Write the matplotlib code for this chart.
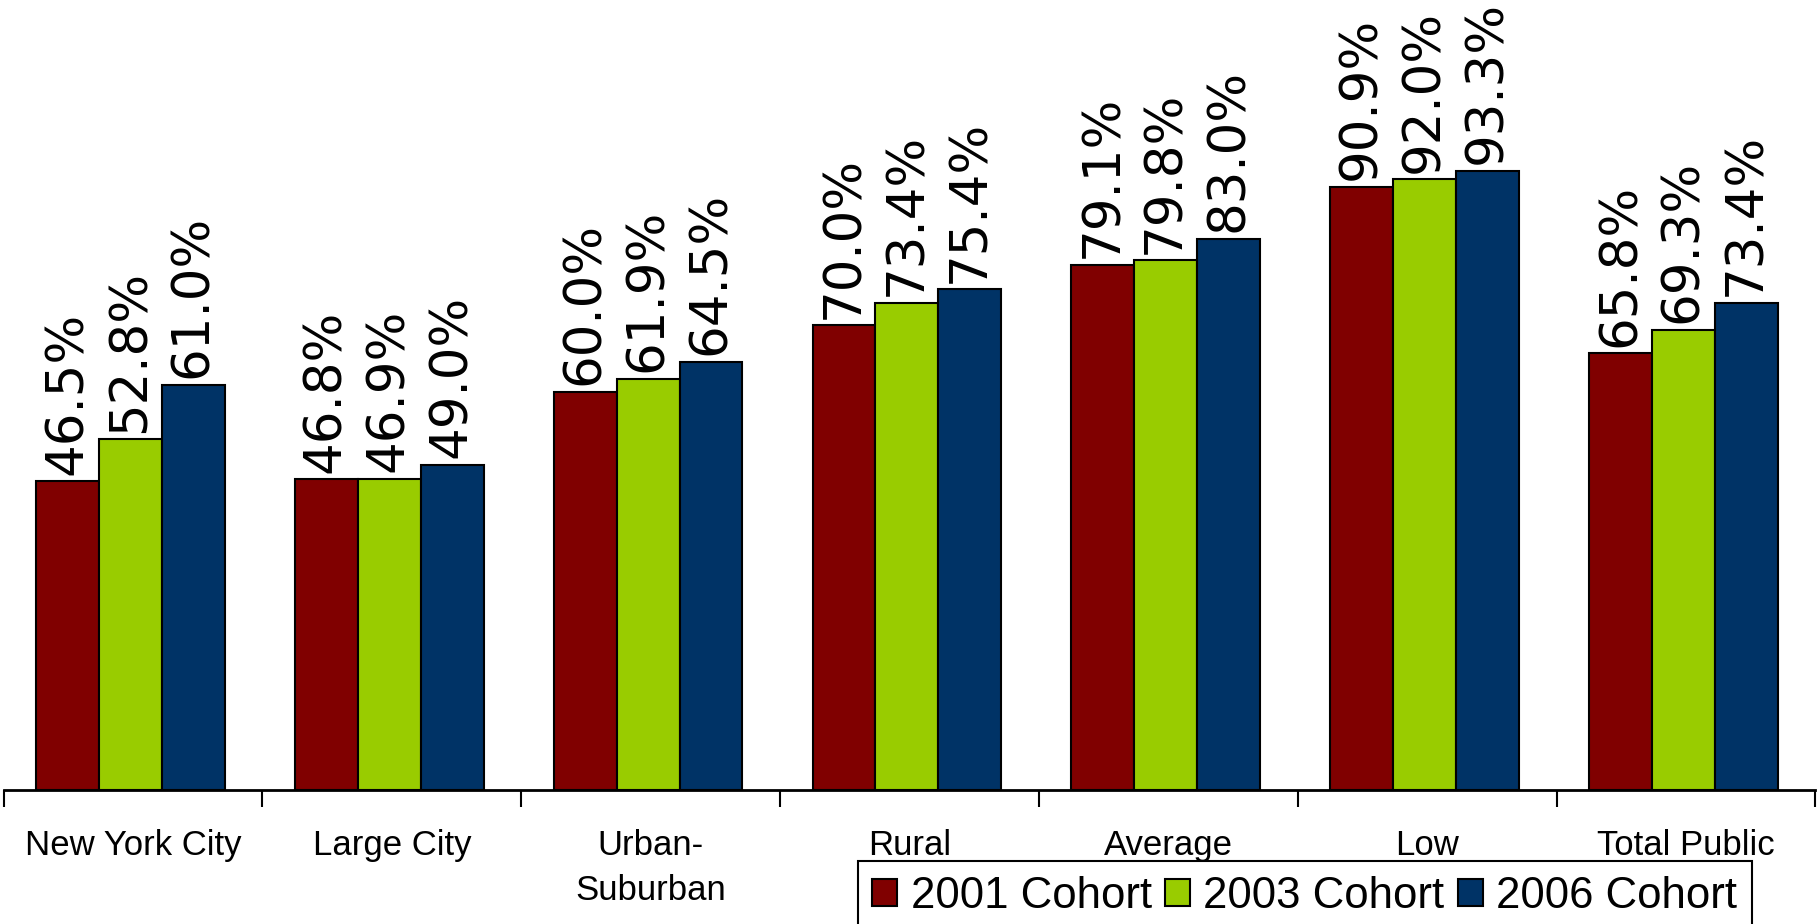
import numpy as np
import matplotlib.pyplot as plt

# dati
categorie = ['New York City', 'Large City', 'Urban-\nSuburban', 'Rural', 'Average', 'Low', 'Total Public']
coorte_2001 = [46.5, 46.8, 60.0, 70.0, 79.1, 90.9, 65.8]
coorte_2003 = [52.8, 46.9, 61.9, 73.4, 79.8, 92.0, 69.3]
coorte_2006 = [61.0, 49.0, 64.5, 75.4, 83.0, 93.3, 73.4]
serie = ['2001 Cohort', '2003 Cohort', '2006 Cohort']
colori = ['#800000', '#99CC00', '#003366']

fig = plt.figure(figsize=(18.19, 9.24), dpi=100)
ax = fig.add_axes([0.002, 0.145, 0.996, 0.855])

x = np.arange(len(categorie))
w = 0.243
valori = [coorte_2001, coorte_2003, coorte_2006]
for i, (v, c, nome) in enumerate(zip(valori, colori, serie)):
    pos = x + (i - 1) * w - 0.01
    ax.bar(pos, v, w, color=c, edgecolor='black', linewidth=1.5, label=nome)
    for px, val in zip(pos, v):
        ax.text(px, val + 1.0, f'{val:.1f}%', rotation=90, ha='center', va='bottom',
                fontsize=37, family='DejaVu Sans')

ax.set_xlim(-0.5, len(categorie) - 0.5)
ax.set_ylim(0, 119)
for s in ['left', 'right', 'top']:
    ax.spines[s].set_visible(False)
ax.spines['bottom'].set_linewidth(2)
ax.set_yticks([])

ax.set_xticks(x)
ax.set_xticklabels(categorie, fontsize=25, family='Liberation Sans', linespacing=1.45)
ax.tick_params(axis='x', which='major', length=0, pad=28)
ax.set_xticks(np.arange(-0.5, len(categorie)), minor=True)
ax.tick_params(axis='x', which='minor', length=12, width=1.5, direction='out')

leg = fig.legend(loc='upper left', bbox_to_anchor=(0.4715, 0.068), ncol=3,
                 prop={'family': 'Liberation Sans', 'size': 31.5},
                 frameon=True, fancybox=False, framealpha=1, edgecolor='black',
                 handlelength=0.58, handleheight=0.58, handletextpad=0.3,
                 columnspacing=0.3, borderpad=0.33, borderaxespad=0)
leg.get_frame().set_linewidth(1.5)

fig.savefig('out.png', dpi=100)
